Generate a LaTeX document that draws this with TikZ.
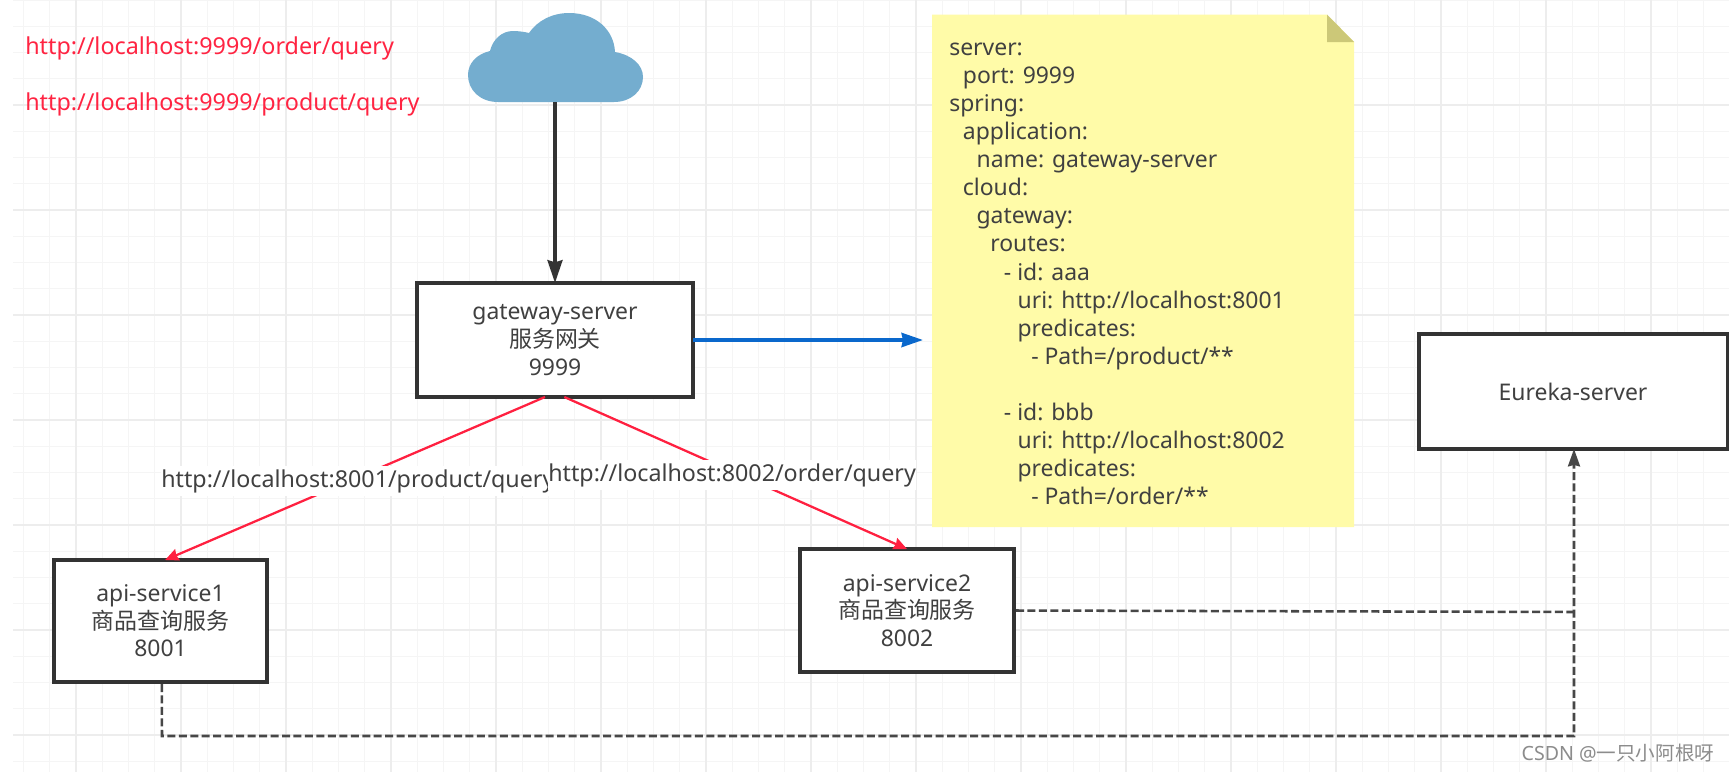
\documentclass[tikz,border=0pt]{standalone}
\usepackage{fontspec}
\setmainfont{Noto Sans}
\newfontfamily\cjk{Noto Sans CJK SC}
\usetikzlibrary{arrows.meta}
\newcommand{\ind}[1]{\hspace*{\dimexpr #1\dimexpr 10.25pt\relax\relax}}
\definecolor{ink}{HTML}{333333}
\definecolor{inktxt}{HTML}{404040}
\definecolor{redtxt}{HTML}{FF2442}
\definecolor{redline}{HTML}{FF2040}
\definecolor{bluearrow}{HTML}{0A68CC}
\definecolor{notey}{HTML}{FFFBA8}
\definecolor{foldy}{HTML}{CCC878}
\definecolor{cloudb}{HTML}{74ADCF}
\definecolor{gridmin}{HTML}{F5F5F5}
\definecolor{gridmaj}{HTML}{EDEDED}
\tikzset{
  boxnode/.style={draw=ink,line width=3pt,fill=white,inner sep=0pt,outer sep=0pt,text=inktxt,align=center,
    font=\fontsize{17.2}{20.7}\selectfont},
  urllabel/.style={text=inktxt,fill=white,inner sep=0pt,minimum height=23pt,anchor=west,font=\fontsize{17.45}{20.7}\selectfont},
  redurl/.style={text=redtxt,inner sep=0pt,anchor=west,font=\fontsize{17.5}{20.7}\selectfont},
  solidarrow/.style={draw=ink,line width=3pt,-{Stealth[length=17pt,width=11pt,inset=1.5pt]}},
  redarrow/.style={draw=redline,line width=1.7pt,-{Stealth[length=10pt,width=9pt,inset=1pt]}},
  bluearr/.style={draw=bluearrow,line width=2.8pt,-{Stealth[length=16pt,width=10.5pt,inset=1pt]}},
  dashconn/.style={draw=ink!90,line width=1.9pt,dash pattern=on 6pt off 2.6pt},
  dashend/.style={dashconn,-{Stealth[length=13pt,width=9pt,inset=1pt]}},
}
\begin{document}
\begin{tikzpicture}[x=0.75pt,y=-0.75pt]
\useasboundingbox (0,0) rectangle (1729,772);
\fill[white] (0,0) rectangle (1729,772);
% grid
\foreach \k in {0,...,65} {
  \pgfmathsetmacro{\gx}{23.5+26.25*\k}
  \draw[gridmin,line width=0.9pt] (\gx,0) -- (\gx,772);
}
\foreach \k in {0,...,29} {
  \pgfmathsetmacro{\gy}{26.25*\k}
  \draw[gridmin,line width=0.9pt] (13,\gy) -- (1729,\gy);
}
\foreach \k in {0,...,15} {
  \pgfmathsetmacro{\gx}{76+105*\k}
  \draw[gridmaj,line width=1.4pt] (\gx,0) -- (\gx,772);
}
\foreach \k in {1,...,7} {
  \pgfmathsetmacro{\gy}{105*\k}
  \draw[gridmaj,line width=1.4pt] (13,\gy) -- (1729,\gy);
}
\fill[white] (0,0) rectangle (13,772);
% red urls
\node[redurl] (u1) at (25,48) {http://localhost:9999/order/query};
\node[redurl] (u2) at (25,104) {http://localhost:9999/product/query};
% cloud
\fill[cloudb] (498,102) .. controls (480,102) and (468,90) .. (468,75)
  .. controls (468,63) and (477,54) .. (490,51)
  .. controls (493,39) and (502,31) .. (513,31)
  .. controls (519,31) and (525,32) .. (529,33)
  .. controls (537,21) and (552,13) .. (569,13)
  .. controls (596,13) and (614,30) .. (615,52)
  .. controls (632,55) and (643,65) .. (643,77)
  .. controls (643,91) and (631,102) .. (614,102) -- cycle;
\coordinate (cloudout) at (555,102);
% note
\fill[notey] (932,14.5) -- (1327,14.5) -- (1354,42) -- (1354,527) -- (932,527) -- cycle;
\fill[foldy] (1327,14.5) -- (1354,42) -- (1327,42) -- cycle;
\node[anchor=north west,inner sep=0pt,text=inktxt,align=left,
  font=\fontsize{17.2}{21.05}\selectfont] (note) at (949,42.6) {%
server:\\
\ind{1}port: 9999\\
spring:\\
\ind{1}application:\\
\ind{2}name: gateway-server\\
\ind{1}cloud:\\
\ind{2}gateway:\\
\ind{3}routes:\\
\ind{4}- id: aaa\\
\ind{5}uri: http://localhost:8001\\
\ind{5}predicates:\\
\ind{6}- Path=/product/**\\
\mbox{}\\
\ind{4}- id: bbb\\
\ind{5}uri: http://localhost:8002\\
\ind{5}predicates:\\
\ind{6}- Path=/order/**};
\coordinate (notein) at (923,340);
% boxes
\node[boxnode,minimum width=276*0.75pt,minimum height=114*0.75pt] (gw) at (555,340)
  {gateway-server\\{\cjk 服务网关}\\9999};
\node[boxnode,minimum width=213*0.75pt,minimum height=122*0.75pt] (a1) at (160.5,621)
  {api-service1\\{\cjk 商品查询服务}\\8001};
\node[boxnode,minimum width=214*0.75pt,minimum height=123*0.75pt] (a2) at (907,610.5)
  {api-service2\\{\cjk 商品查询服务}\\8002};
\node[boxnode,minimum width=309*0.75pt,minimum height=115*0.75pt] (eu) at (1573,391.5)
  {Eureka-server};
% connectors
\draw[solidarrow] (cloudout) -- (gw.north);
\draw[bluearr] (gw.east) -- (notein);
\draw[redarrow] ([xshift=-7.5pt]gw.south) -- ([xshift=3.5pt]a1.north);
\draw[redarrow] ([xshift=7pt]gw.south) -- (a2.north);
\coordinate (j1) at (1574,736);
\coordinate (j2) at (1574,612);
\coordinate (d1) at (162,736);
\draw[dashend] ([xshift=1pt,yshift=-1.5pt]a1.south) -- (d1) -- (j1) -- ([xshift=0.75pt]eu.south);
\draw[dashconn] ([xshift=1.5pt]a2.east) -- (j2);
% url labels
\node[urllabel] (l1) at (161,481) {http://localhost:8001/product/query};
\node[urllabel] (l2) at (548,475) {http://localhost:8002/order/query};
% watermark
\node[text=black!45,inner sep=0pt,font=\fontsize{14.7}{16}\selectfont] (wm) at (1618,753) {CSDN @{\cjk 一只小阿根呀}};
\end{tikzpicture}
\end{document}
